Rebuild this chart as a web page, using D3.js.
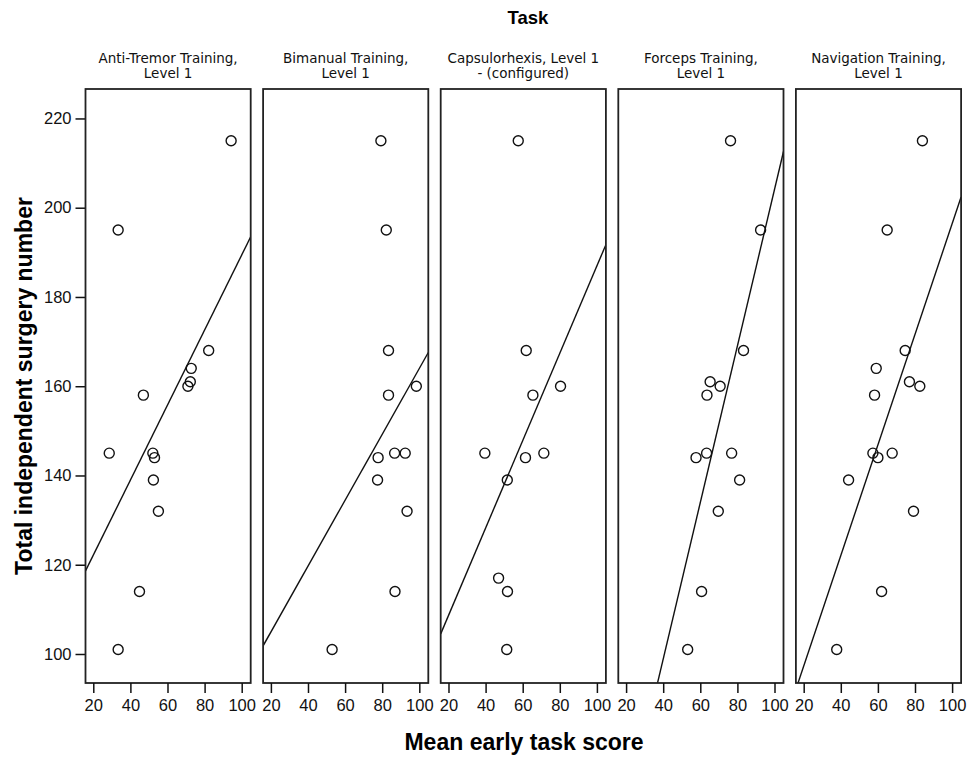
<!DOCTYPE html>
<html>
<head>
<meta charset="utf-8">
<script src="https://cdn.jsdelivr.net/npm/d3@7"></script>
<style>
  html, body { margin: 0; padding: 0; background: #fff; }
  svg { display: block; }
</style>
</head>
<body>
<svg id="chart" width="970" height="757"></svg>
<script>
// Panel titles (two lines each)
const taskTitles = [
  ["Anti-Tremor Training,", "Level 1"],
  ["Bimanual Training,", "Level 1"],
  ["Capsulorhexis, Level 1", "- (configured)"],
  ["Forceps Training,", "Level 1"],
  ["Navigation Training,", "Level 1"]
];

// Mean early task score (x) and total independent surgery number (y), per task
const antiTremorScore    = [94.3, 33.4, 82.2, 72.8, 72.3, 71.0, 47.0, 28.6, 52.1, 53.0, 52.4, 55.1, 44.9, 33.4];
const antiTremorSurgery  = [215, 195, 168, 164, 161, 160, 158, 145, 145, 144, 139, 132, 114, 101];

const bimanualScore      = [79.3, 82.2, 83.4, 98.4, 83.4, 86.7, 92.4, 77.8, 77.5, 93.4, 86.9, 53.0];
const bimanualSurgery    = [215, 195, 168, 160, 158, 145, 145, 144, 139, 132, 114, 101];

const capsulorhexisScore   = [57.6, 61.9, 80.4, 65.5, 39.6, 71.4, 61.5, 51.7, 47.0, 51.8, 51.4];
const capsulorhexisSurgery = [215, 168, 160, 158, 145, 145, 144, 139, 117, 114, 101];

const forcepsScore       = [76.3, 92.5, 83.3, 65.3, 70.7, 63.6, 63.4, 76.9, 57.7, 81.2, 69.7, 60.7, 53.2];
const forcepsSurgery     = [215, 195, 168, 161, 160, 158, 145, 145, 144, 139, 132, 114, 101];

const navigationScore    = [84.0, 65.0, 74.7, 59.1, 77.0, 82.6, 58.2, 57.3, 67.7, 60.0, 44.2, 79.2, 62.0, 37.8];
const navigationSurgery  = [215, 195, 168, 164, 161, 160, 158, 145, 145, 144, 139, 132, 114, 101];

const xTicks = [20, 40, 60, 80, 100];
const yTicks = [100, 120, 140, 160, 180, 200, 220];

const panels = [
  { title: taskTitles[0], x: antiTremorScore,    y: antiTremorSurgery },
  { title: taskTitles[1], x: bimanualScore,      y: bimanualSurgery },
  { title: taskTitles[2], x: capsulorhexisScore, y: capsulorhexisSurgery },
  { title: taskTitles[3], x: forcepsScore,       y: forcepsSurgery },
  { title: taskTitles[4], x: navigationScore,    y: navigationSurgery }
];

// Layout
const plotTop = 89, plotBottom = 683;
const firstLeft = 85.5, panelW = 165.2, panelStep = 177.6;
const axisFont = "'Liberation Sans', Arial, sans-serif";
const titleFont = "'DejaVu Sans', Verdana, sans-serif";

const svg = d3.select("#chart");

const y = d3.scaleLinear().domain([93.5, 226.6]).range([plotBottom, plotTop]);
const x = d3.scaleLinear().domain([15.8, 104.85]).range([0, panelW]);

// Least-squares fit of y on x
function fit(xs, ys) {
  const mx = d3.mean(xs), my = d3.mean(ys);
  let sxy = 0, sxx = 0;
  xs.forEach((v, i) => { sxy += (v - mx) * (ys[i] - my); sxx += (v - mx) ** 2; });
  const slope = sxy / sxx;
  return { slope, intercept: my - slope * mx };
}

// Overall titles
svg.append("text")
  .attr("x", 528).attr("y", 24)
  .attr("text-anchor", "middle")
  .style("font-family", axisFont).style("font-weight", "bold").style("font-size", "18.5px")
  .text("Task");

svg.append("text")
  .attr("x", 524).attr("y", 750)
  .attr("text-anchor", "middle")
  .style("font-family", axisFont).style("font-weight", "bold").style("font-size", "23px")
  .text("Mean early task score");

svg.append("text")
  .attr("transform", "translate(32,386) rotate(-90)")
  .attr("text-anchor", "middle")
  .style("font-family", axisFont).style("font-weight", "bold").style("font-size", "23px")
  .text("Total independent surgery number");

// Y axis on the first panel
const yAxis = d3.axisLeft(y).tickValues(yTicks).tickSize(10).tickPadding(4);
const gy = svg.append("g")
  .attr("transform", `translate(${firstLeft},0)`)
  .call(yAxis);
gy.select(".domain").remove();
gy.selectAll(".tick line").attr("stroke", "#111").attr("stroke-width", 1.5);
gy.selectAll(".tick text")
  .style("font-family", axisFont).style("font-size", "16.5px").attr("fill", "#111");

panels.forEach((p, i) => {
  const left = firstLeft + i * panelStep;
  const g = svg.append("g").attr("transform", `translate(${left},0)`);

  // Panel title
  const t = g.append("text")
    .attr("x", panelW / 2).attr("y", 63)
    .attr("text-anchor", "middle")
    .style("font-family", titleFont)
    .style("font-size", "13.5px").attr("fill", "#111");
  p.title.forEach((line, k) => {
    t.append("tspan").attr("x", panelW / 2).attr("dy", k === 0 ? 0 : 15).text(line);
  });

  // Clip region for the fit line
  const clipId = "clip" + i;
  g.append("clipPath").attr("id", clipId)
    .append("rect").attr("x", 0).attr("y", plotTop).attr("width", panelW).attr("height", plotBottom - plotTop);

  // Fit line across the panel
  const f = fit(p.x, p.y);
  const [x0, x1] = x.domain();
  g.append("line")
    .attr("clip-path", `url(#${clipId})`)
    .attr("x1", x(x0)).attr("y1", y(f.intercept + f.slope * x0))
    .attr("x2", x(x1)).attr("y2", y(f.intercept + f.slope * x1))
    .attr("stroke", "#111").attr("stroke-width", 1.4);

  // Points
  g.selectAll("circle.pt")
    .data(p.x.map((v, k) => [v, p.y[k]]))
    .join("circle")
    .attr("class", "pt")
    .attr("cx", d => x(d[0])).attr("cy", d => y(d[1]))
    .attr("r", 5)
    .attr("fill", "none").attr("stroke", "#111").attr("stroke-width", 1.4);

  // Panel frame
  g.append("rect")
    .attr("x", 0).attr("y", plotTop).attr("width", panelW).attr("height", plotBottom - plotTop)
    .attr("fill", "none").attr("stroke", "#222").attr("stroke-width", 1.8);

  // X axis
  const gx = g.append("g")
    .attr("transform", `translate(0,${plotBottom})`)
    .call(d3.axisBottom(x).tickValues(xTicks).tickSize(10).tickPadding(6));
  gx.select(".domain").remove();
  gx.selectAll(".tick line").attr("stroke", "#111").attr("stroke-width", 1.5);
  gx.selectAll(".tick text")
    .style("font-family", axisFont).style("font-size", "16.5px").attr("fill", "#111");
});
</script>
</body>
</html>
